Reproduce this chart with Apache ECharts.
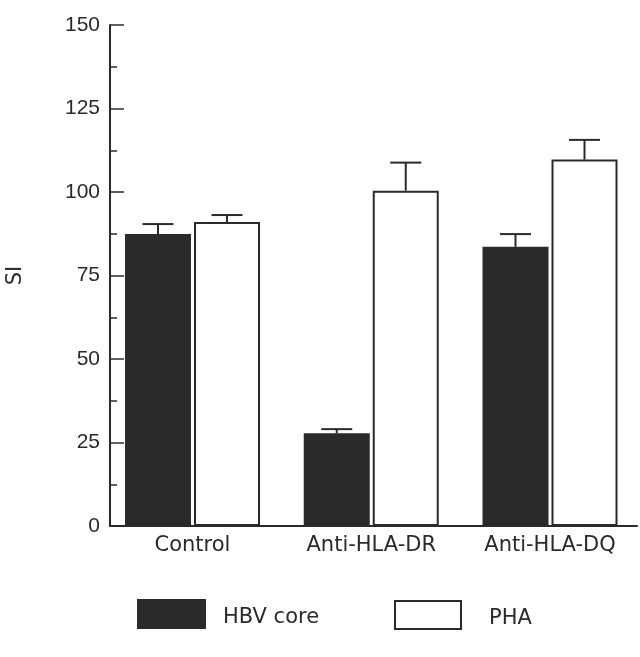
<!DOCTYPE html>
<html>
<head>
<meta charset="utf-8">
<script src="https://cdn.jsdelivr.net/npm/echarts@6/dist/echarts.min.js"></script>
<style>html,body{margin:0;padding:0;background:#fff}#c{width:640px;height:657px}</style>
</head>
<body>
<div id="c"></div>
<script>
var categories = ['Control', 'Anti-HLA-DR', 'Anti-HLA-DQ'];
var seriesNames = ['HBV core', 'PHA'];
var hbvValues = [87.4, 27.8, 83.6];
var hbvErrors = [3.0, 1.2, 3.8];
var phaValues = [91.0, 100.4, 109.7];
var phaErrors = [2.1, 8.4, 5.9];
var yTicks = [0, 25, 50, 75, 100, 125, 150];

var INK = '#2a2a2a';
var BAR_W = 66, GAP = 3;
var positions = categories.map(function (c, i) { return i + 1; });

function pairs(vals) { return vals.map(function (v, i) { return [positions[i], v]; }); }
function errData(vals, errs) { return vals.map(function (v, i) { return [positions[i], v + errs[i], v]; }); }

function errRender(shift) {
  return function (params, api) {
    var b = api.coord([api.value(0), api.value(2)]);
    var t = api.coord([api.value(0), api.value(1)]);
    var x = b[0] + shift;
    var st = { stroke: INK, lineWidth: 2 };
    return { type: 'group', children: [
      { type: 'line', shape: { x1: x, y1: b[1], x2: x, y2: t[1] }, style: st },
      { type: 'line', shape: { x1: x - 15.5, y1: t[1], x2: x + 15.5, y2: t[1] }, style: st }
    ]};
  };
}

function legendText(padLeft) {
  return {
    formatter: function (n) { return '{t|' + n + '}'; },
    textStyle: {
      color: INK, fontFamily: 'DejaVu Sans', fontSize: 21,
      rich: { t: { color: INK, fontFamily: 'DejaVu Sans', fontSize: 21, padding: [8, 0, 0, padLeft] } }
    }
  };
}

var chart = echarts.init(document.getElementById('c'));
var lg1 = legendText(12), lg2 = legendText(23);
chart.setOption({
  animation: false,
  backgroundColor: '#fff',
  grid: { left: 110, right: 3, top: 25, bottom: 131, outerBoundsMode: 'none', containLabel: false },
  xAxis: {
    type: 'value', min: 0.5385, max: 3.4867,
    splitLine: { show: false },
    axisLine: { show: true, lineStyle: { color: INK, width: 2 } },
    axisTick: { show: false },
    axisLabel: {
      customValues: positions,
      formatter: function (v) { return categories[Math.round(v) - 1] || ''; },
      color: INK, fontFamily: 'DejaVu Sans', fontSize: 21, margin: 9
    }
  },
  yAxis: {
    type: 'value', min: yTicks[0], max: yTicks[yTicks.length - 1], interval: 25,
    name: 'SI', nameLocation: 'middle', nameGap: 84, nameRotate: 90,
    nameTextStyle: { color: INK, fontFamily: 'DejaVu Sans', fontSize: 21 },
    splitLine: { show: false },
    axisLine: { show: true, lineStyle: { color: INK, width: 2 } },
    axisTick: { show: true, inside: true, length: 14, lineStyle: { color: INK, width: 1.5 } },
    minorTick: { show: true, splitNumber: 2, length: 7, lineStyle: { color: INK, width: 1.5 } },
    axisLabel: { color: INK, fontFamily: 'Liberation Sans', fontSize: 21, margin: 10 }
  },
  legend: [
    { data: [{ name: seriesNames[0], icon: 'rect', itemStyle: { color: INK, borderWidth: 0 } }],
      left: 132, top: 594, itemWidth: 69, itemHeight: 30, selectedMode: false,
      formatter: lg1.formatter, textStyle: lg1.textStyle },
    { data: [{ name: seriesNames[1], icon: 'rect', itemStyle: { color: '#fff', borderColor: INK, borderWidth: 2 } }],
      left: 389, top: 595, itemWidth: 66, itemHeight: 28, selectedMode: false,
      formatter: lg2.formatter, textStyle: lg2.textStyle }
  ],
  series: [
    { name: seriesNames[0], type: 'bar', data: pairs(hbvValues), barWidth: BAR_W, barGap: (GAP / BAR_W * 100) + '%',
      itemStyle: { color: INK }, z: 2 },
    { name: seriesNames[1], type: 'bar', data: pairs(phaValues), barWidth: BAR_W, barGap: (GAP / BAR_W * 100) + '%',
      itemStyle: { color: '#fff', borderColor: INK, borderWidth: 2 }, z: 2 },
    { type: 'custom', data: errData(hbvValues, hbvErrors), renderItem: errRender(-(BAR_W + GAP) / 2), z: 3 },
    { type: 'custom', data: errData(phaValues, phaErrors), renderItem: errRender((BAR_W + GAP) / 2), z: 3 }
  ]
});
</script>
</body>
</html>
